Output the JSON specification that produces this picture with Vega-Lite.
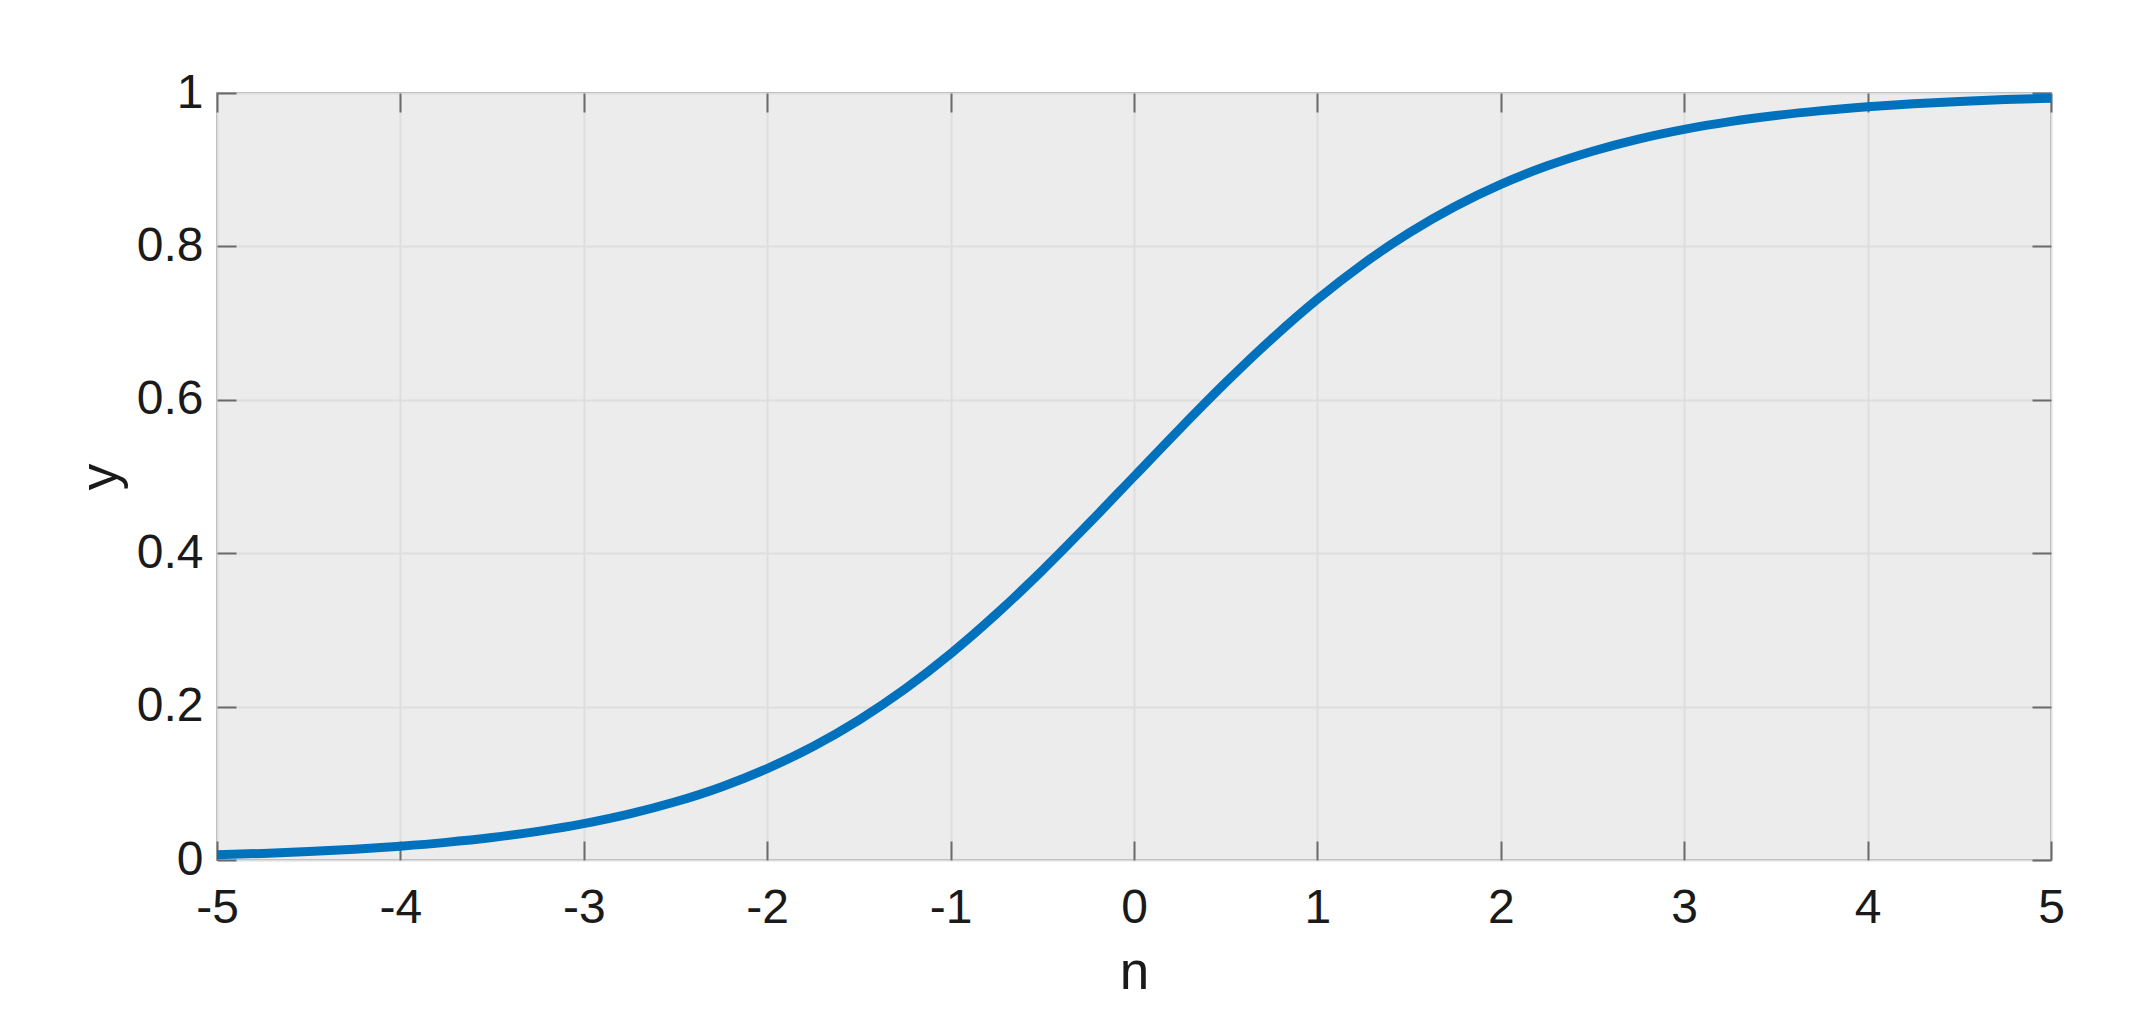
{
  "$schema": "https://vega.github.io/schema/vega-lite/v6.json",
  "width": 1834,
  "height": 767,
  "autosize": {"type": "none"},
  "padding": {"left": 217, "top": 93, "right": 101, "bottom": 158},
  "background": "white",
  "config": {
    "view": {"fill": "#ececec", "stroke": "#a3a3a3", "strokeWidth": 2},
    "axis": {
      "labelFont": "Liberation Sans",
      "titleFont": "Liberation Sans",
      "labelFontSize": 48,
      "titleFontSize": 53,
      "labelColor": "#1a1a1a",
      "titleColor": "#1a1a1a",
      "titleFontWeight": "normal",
      "domain": false,
      "tickColor": "#6a6a6a",
      "tickWidth": 2,
      "tickSize": -19,
      "gridColor": "#dedede",
      "gridWidth": 2,
      "labelFlush": false,
      "labelOverlap": false
    }
  },
  "data": {
    "values": [
      {"n": -5, "y": 0.0067}, {"n": -4.75, "y": 0.0086}, {"n": -4.5, "y": 0.011}, {"n": -4.25, "y": 0.014},
      {"n": -4, "y": 0.018}, {"n": -3.75, "y": 0.023}, {"n": -3.5, "y": 0.0293}, {"n": -3.25, "y": 0.0373},
      {"n": -3, "y": 0.0474}, {"n": -2.75, "y": 0.0601}, {"n": -2.5, "y": 0.0759}, {"n": -2.25, "y": 0.0953},
      {"n": -2, "y": 0.1192}, {"n": -1.75, "y": 0.148}, {"n": -1.5, "y": 0.1824}, {"n": -1.25, "y": 0.2227},
      {"n": -1, "y": 0.2689}, {"n": -0.75, "y": 0.3208}, {"n": -0.5, "y": 0.3775}, {"n": -0.25, "y": 0.4378},
      {"n": 0, "y": 0.5}, {"n": 0.25, "y": 0.5622}, {"n": 0.5, "y": 0.6225}, {"n": 0.75, "y": 0.6792},
      {"n": 1, "y": 0.7311}, {"n": 1.25, "y": 0.7773}, {"n": 1.5, "y": 0.8176}, {"n": 1.75, "y": 0.852},
      {"n": 2, "y": 0.8808}, {"n": 2.25, "y": 0.9047}, {"n": 2.5, "y": 0.9241}, {"n": 2.75, "y": 0.9399},
      {"n": 3, "y": 0.9526}, {"n": 3.25, "y": 0.9627}, {"n": 3.5, "y": 0.9707}, {"n": 3.75, "y": 0.977},
      {"n": 4, "y": 0.982}, {"n": 4.25, "y": 0.986}, {"n": 4.5, "y": 0.989}, {"n": 4.75, "y": 0.9914},
      {"n": 5, "y": 0.9933}
    ]
  },
  "layer": [
    {
      "mark": {"type": "line", "color": "#0072BD", "strokeWidth": 9, "interpolate": "monotone", "strokeCap": "butt", "clip": true},
      "encoding": {
        "x": {
          "field": "n", "type": "quantitative",
          "scale": {"domain": [-5, 5], "nice": false, "zero": false},
          "axis": {
            "orient": "bottom", "values": [-5, -4, -3, -2, -1, 0, 1, 2, 3, 4, 5],
            "labelExpr": "'' + datum.value",
            "labelPadding": 43, "title": "n", "titleX": 917, "titleY": 128,
            "titleBaseline": "alphabetic", "titleAlign": "center", "titlePadding": 0
          }
        },
        "y": {
          "field": "y", "type": "quantitative",
          "scale": {"domain": [0, 1], "nice": false, "zero": false},
          "axis": {
            "orient": "left", "values": [0, 0.2, 0.4, 0.6, 0.8, 1],
            "labelExpr": "'' + datum.value",
            "labelPadding": 33, "title": "y", "titleX": -101, "titleY": 383.5, "titleAngle": -90,
            "titleBaseline": "alphabetic", "titleAlign": "center", "titlePadding": 0
          }
        }
      }
    },
    {
      "mark": {"type": "line", "opacity": 0},
      "encoding": {
        "x": {
          "field": "n", "type": "quantitative",
          "axis": {"orient": "top", "values": [-5, -4, -3, -2, -1, 0, 1, 2, 3, 4, 5], "labels": false, "grid": false, "title": null}
        },
        "y": {
          "field": "y", "type": "quantitative",
          "axis": {"orient": "right", "values": [0, 0.2, 0.4, 0.6, 0.8, 1], "labels": false, "grid": false, "title": null}
        }
      }
    }
  ],
  "resolve": {"axis": {"x": "independent", "y": "independent"}}
}
